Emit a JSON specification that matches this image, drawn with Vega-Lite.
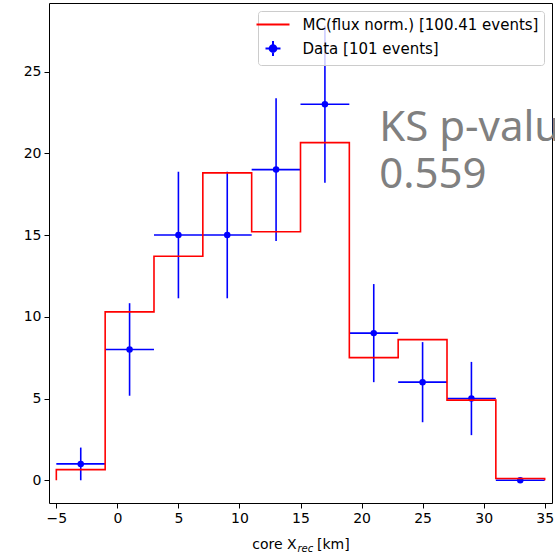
{
  "$schema": "https://vega.github.io/schema/vega-lite/v6.json",
  "width": 503,
  "height": 500,
  "autosize": "none",
  "padding": {"left": 49, "top": 3, "right": 3, "bottom": 52},
  "background": "white",
  "config": {
    "view": {"stroke": "black", "strokeWidth": 1},
    "font": "DejaVu Sans",
    "axis": {"grid": false, "domain": false, "tickColor": "black", "tickSize": 5, "labelColor": "black", "labelFont": "DejaVu Sans", "labelFontSize": 14, "labelPadding": 3}
  },
  "datasets": {
    "hist": [
      {"lo": -5, "hi": -1, "x": -3, "n": 1, "elo": 0, "ehi": 2},
      {"lo": -1, "hi": 3, "x": 1, "n": 8, "elo": 5.17, "ehi": 10.83},
      {"lo": 3, "hi": 7, "x": 5, "n": 15, "elo": 11.13, "ehi": 18.87},
      {"lo": 7, "hi": 11, "x": 9, "n": 15, "elo": 11.13, "ehi": 18.87},
      {"lo": 11, "hi": 15, "x": 13, "n": 19, "elo": 14.64, "ehi": 23.36},
      {"lo": 15, "hi": 19, "x": 17, "n": 23, "elo": 18.2, "ehi": 27.8},
      {"lo": 19, "hi": 23, "x": 21, "n": 9, "elo": 6, "ehi": 12},
      {"lo": 23, "hi": 27, "x": 25, "n": 6, "elo": 3.55, "ehi": 8.45},
      {"lo": 27, "hi": 31, "x": 29, "n": 5, "elo": 2.76, "ehi": 7.24},
      {"lo": 31, "hi": 35, "x": 33, "n": 0, "elo": 0, "ehi": 0}
    ],
    "mc": [
      {"i": 0, "edge": -5, "mc": 0},
      {"i": 1, "edge": -5, "mc": 0.65},
      {"i": 2, "edge": -1, "mc": 10.3},
      {"i": 3, "edge": 3, "mc": 13.7},
      {"i": 4, "edge": 7, "mc": 18.8},
      {"i": 5, "edge": 11, "mc": 15.2},
      {"i": 6, "edge": 15, "mc": 20.65},
      {"i": 7, "edge": 19, "mc": 7.5},
      {"i": 8, "edge": 23, "mc": 8.6},
      {"i": 9, "edge": 27, "mc": 4.9},
      {"i": 10, "edge": 31, "mc": 0.11},
      {"i": 11, "edge": 35, "mc": 0}
    ],
    "one": [{}]
  },
  "layer": [
    {
      "data": {"name": "hist"},
      "mark": {"type": "rule", "strokeWidth": 1.6},
      "encoding": {
        "x": {"field": "lo", "type": "quantitative", "scale": {"domain": [-5.6, 35.6], "nice": false, "zero": false},
              "axis": {"values": [-5, 0, 5, 10, 15, 20, 25, 30, 35], "title": null, "labelExpr": "replace(datum.label, '-', '\u2212')"}},
        "x2": {"field": "hi"},
        "y": {"field": "n", "type": "quantitative", "scale": {"domain": [-1.39, 29.19], "nice": false, "zero": false},
              "axis": {"values": [0, 5, 10, 15, 20, 25], "title": null}},
        "color": {"datum": "Data [101 events]", "type": "nominal",
          "scale": {"domain": ["MC(flux norm.) [100.41 events]", "Data [101 events]"], "range": ["red", "blue"]},
          "legend": {
            "title": null, "orient": "top-right", "offset": 8,
            "fillColor": "rgba(255,255,255,0.8)", "strokeColor": "#cccccc", "cornerRadius": 3,
            "padding": 5, "rowPadding": 4, "labelFont": "DejaVu Sans", "labelFontSize": 15, "labelColor": "black", "labelLimit": 0,
            "symbolSize": 225, "symbolStrokeWidth": 2, "symbolOffset": 1.5, "labelOffset": 21,
            "encode": {"symbols": {"update": {
              "shape": {"signal": "datum.value === 'Data [101 events]' ? 'M-1,0H1M0,-1V1M0.45,0A0.45,0.45,0,1,1,-0.45,0A0.45,0.45,0,1,1,0.45,0Z' : 'M-2.2,0H2.2'"},
              "fill": {"signal": "datum.value === 'Data [101 events]' ? 'blue' : 'transparent'"},
              "stroke": {"signal": "datum.value === 'Data [101 events]' ? 'blue' : 'red'"},
              "strokeWidth": {"value": 2},
              "opacity": {"value": 1},
              "fillOpacity": {"value": 1},
              "strokeOpacity": {"value": 1}
            }}}
          }}
      }
    },
    {
      "data": {"name": "hist"},
      "mark": {"type": "rule", "strokeWidth": 1.6},
      "encoding": {
        "x": {"field": "x", "type": "quantitative"},
        "y": {"field": "elo", "type": "quantitative"},
        "y2": {"field": "ehi"},
        "color": {"datum": "Data [101 events]", "type": "nominal"}
      }
    },
    {
      "data": {"name": "hist"},
      "mark": {"type": "point", "filled": true, "shape": "circle", "size": 42, "opacity": 1},
      "encoding": {
        "x": {"field": "x", "type": "quantitative"},
        "y": {"field": "n", "type": "quantitative"},
        "color": {"datum": "Data [101 events]", "type": "nominal"}
      }
    },
    {
      "data": {"name": "mc"},
      "mark": {"type": "line", "interpolate": "step-after", "strokeWidth": 1.6},
      "encoding": {
        "x": {"field": "edge", "type": "quantitative"},
        "y": {"field": "mc", "type": "quantitative"},
        "order": {"field": "i"},
        "color": {"datum": "MC(flux norm.) [100.41 events]", "type": "nominal"}
      }
    },
    {
      "data": {"name": "one"},
      "mark": {"type": "text", "text": ["KS p-value", "0.559"], "font": "Noto Sans", "fontSize": 42, "lineHeight": 47, "color": "#808080", "align": "left", "baseline": "alphabetic"},
      "encoding": {"x": {"datum": 21.45}, "y": {"datum": 20.75}}
    },
    {
      "data": {"name": "one"},
      "mark": {"type": "text", "text": "core X", "font": "DejaVu Sans", "fontSize": 14, "color": "black", "align": "right", "baseline": "alphabetic"},
      "encoding": {"x": {"datum": 14.69}, "y": {"datum": -4.2}}
    },
    {
      "data": {"name": "one"},
      "mark": {"type": "text", "text": "rec", "font": "DejaVu Sans", "fontStyle": "italic", "fontSize": 10, "color": "black", "align": "left", "baseline": "alphabetic"},
      "encoding": {"x": {"datum": 14.75}, "y": {"datum": -4.38}}
    },
    {
      "data": {"name": "one"},
      "mark": {"type": "text", "text": "[km]", "font": "DejaVu Sans", "fontSize": 14, "color": "black", "align": "left", "baseline": "alphabetic"},
      "encoding": {"x": {"datum": 16.35}, "y": {"datum": -4.2}}
    }
  ]
}
